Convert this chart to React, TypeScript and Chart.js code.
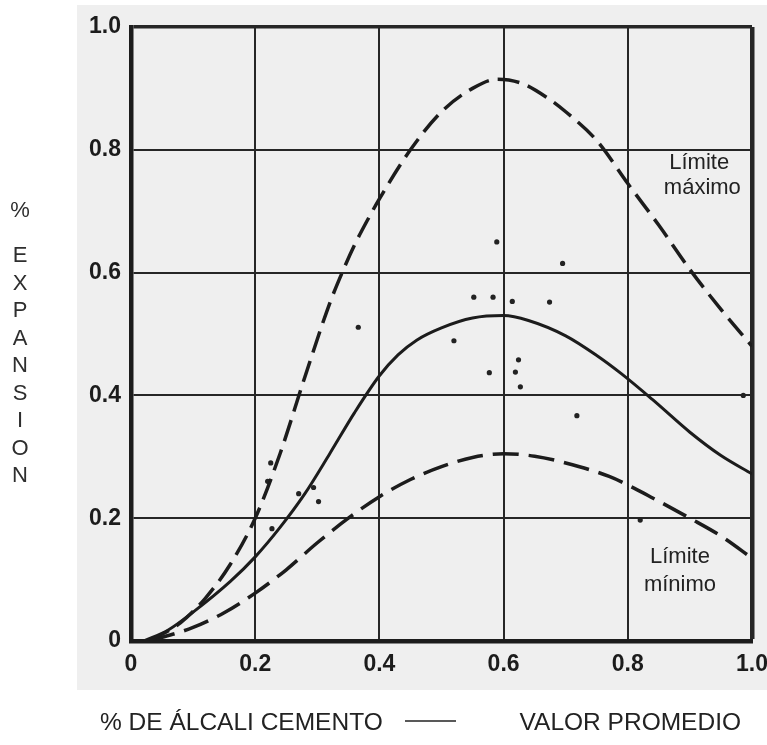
import React, { useEffect, useRef } from 'react';
import { Chart, registerables } from 'chart.js';

Chart.register(...registerables);

// ---- Data ----
const maxX = [0.03, 0.08, 0.12, 0.16, 0.2, 0.24, 0.28, 0.32, 0.34, 0.36, 0.38, 0.4, 0.45, 0.5, 0.55, 0.59, 0.63, 0.67, 0.7, 0.75, 0.8, 0.85, 0.9, 0.95, 1.0];
const maxY = [0, 0.03, 0.07, 0.125, 0.2, 0.305, 0.43, 0.55, 0.6, 0.645, 0.684, 0.72, 0.8, 0.862, 0.9, 0.915, 0.908, 0.885, 0.862, 0.815, 0.745, 0.677, 0.605, 0.54, 0.48];

const meanX = [0.02, 0.06, 0.1, 0.16, 0.2, 0.24, 0.28, 0.32, 0.36, 0.4, 0.43, 0.46, 0.5, 0.55, 0.6, 0.64, 0.7, 0.75, 0.79, 0.84, 0.9, 0.95, 1.0];
const meanY = [0, 0.018, 0.047, 0.097, 0.137, 0.185, 0.24, 0.305, 0.372, 0.432, 0.466, 0.49, 0.51, 0.526, 0.53, 0.522, 0.497, 0.465, 0.435, 0.393, 0.34, 0.302, 0.272];

const minX = [0.03, 0.1, 0.15, 0.2, 0.25, 0.3, 0.35, 0.4, 0.45, 0.5, 0.55, 0.6, 0.65, 0.7, 0.77, 0.81, 0.84, 0.9, 0.95, 1.0];
const minY = [0, 0.022, 0.046, 0.078, 0.116, 0.16, 0.2, 0.235, 0.263, 0.284, 0.299, 0.305, 0.301, 0.29, 0.268, 0.249, 0.233, 0.2, 0.171, 0.135];

const dotX = [0.22, 0.225, 0.227, 0.27, 0.294, 0.302, 0.366, 0.52, 0.552, 0.583, 0.589, 0.614, 0.674, 0.695, 0.577, 0.619, 0.624, 0.627, 0.718, 0.82, 0.986];
const dotY = [0.26, 0.29, 0.183, 0.24, 0.25, 0.227, 0.511, 0.489, 0.56, 0.56, 0.65, 0.553, 0.552, 0.615, 0.437, 0.438, 0.458, 0.414, 0.367, 0.197, 0.4];

const xTickLabels = ['0', '0.2', '0.4', '0.6', '0.8', '1.0'];
const yTickLabels = ['0', '0.2', '0.4', '0.6', '0.8', '1.0'];
const yTitleChars = ['%', 'E', 'X', 'P', 'A', 'N', 'S', 'I', 'O', 'N'];
const xTitle = '% DE ÁLCALI CEMENTO';
const meanLegend = 'VALOR PROMEDIO';
const upperNote = ['Límite', 'máximo'];
const lowerNote = ['Límite', 'mínimo'];

const W = 767;
const H = 745;
const INK = '#1c1c1c';

const pts = (xs: number[], ys: number[]) => xs.map((x, i) => ({ x, y: ys[i] }));

export default function App() {
  const ref = useRef<HTMLCanvasElement | null>(null);

  useEffect(() => {
    const canvas = ref.current;
    if (!canvas) return;

    const decor = {
      id: 'decor',
      beforeDraw(chart: any) {
        const ctx = chart.ctx;
        ctx.save();
        ctx.fillStyle = '#ffffff';
        ctx.fillRect(0, 0, W, H);
        ctx.fillStyle = '#efefef';
        ctx.fillRect(77, 5, W - 77, 685);
        ctx.restore();
      },
      afterDraw(chart: any) {
        const ctx = chart.ctx;
        const xs = chart.scales.x;
        const ys = chart.scales.y;
        ctx.save();
        // vertical y-axis title
        ctx.fillStyle = '#2e2e2e';
        ctx.font = '22px "Liberation Sans", Arial, sans-serif';
        ctx.textAlign = 'center';
        ctx.textBaseline = 'middle';
        yTitleChars.forEach((c, i) => {
          const y = i === 0 ? 211 : 256 + (i - 1) * 27.5;
          ctx.fillText(c, 20, y);
        });
        // annotations
        ctx.fillStyle = '#222222';
        ctx.font = '22px "Liberation Sans", Arial, sans-serif';
        ctx.fillText(upperNote[0], xs.getPixelForValue(0.915), ys.getPixelForValue(0.778));
        ctx.fillText(upperNote[1], xs.getPixelForValue(0.92), ys.getPixelForValue(0.738));
        ctx.fillText(lowerNote[0], xs.getPixelForValue(0.884), ys.getPixelForValue(0.137));
        ctx.fillText(lowerNote[1], xs.getPixelForValue(0.884), ys.getPixelForValue(0.091));
        // caption
        ctx.fillStyle = '#222222';
        ctx.font = '24.5px "Liberation Sans", Arial, sans-serif';
        ctx.textAlign = 'left';
        ctx.fillText(xTitle, 100, 723);
        ctx.strokeStyle = '#222222';
        ctx.lineWidth = 1.5;
        ctx.beginPath();
        ctx.moveTo(405, 721);
        ctx.lineTo(456, 721);
        ctx.stroke();
        ctx.textAlign = 'right';
        ctx.fillText(meanLegend, 741, 723);
        ctx.restore();
      },
    };

    const lineCommon = {
      showLine: true,
      borderColor: INK,
      pointRadius: 0,
      cubicInterpolationMode: 'monotone' as const,
      fill: false,
    };

    const chart = new Chart(canvas, {
      type: 'scatter',
      data: {
        datasets: [
          { ...lineCommon, label: 'max', data: pts(maxX, maxY), borderWidth: 3.5, borderDash: [22, 9] },
          { ...lineCommon, label: 'mean', data: pts(meanX, meanY), borderWidth: 3 },
          { ...lineCommon, label: 'min', data: pts(minX, minY), borderWidth: 3.5, borderDash: [26, 10] },
          {
            label: 'dots',
            data: pts(dotX, dotY),
            showLine: false,
            pointRadius: 2.6,
            pointBackgroundColor: '#222222',
            pointBorderWidth: 0,
          },
        ],
      },
      options: {
        responsive: false,
        animation: false,
        events: [],
        layout: { padding: { top: 27, right: 15, left: 0, bottom: 0 } },
        plugins: { legend: { display: false }, tooltip: { enabled: false } },
        scales: {
          x: {
            type: 'linear',
            min: 0,
            max: 1,
            afterFit(scale: any) {
              scale.height = 104;
              scale.paddingLeft = 0;
              scale.paddingRight = 0;
            },
            ticks: {
              stepSize: 0.2,
              padding: 10,
              color: INK,
              font: { family: '"Liberation Sans", Arial, sans-serif', size: 23, weight: 'bold' },
              callback: (v: any) => xTickLabels[Math.round(Number(v) / 0.2)] ?? '',
              maxRotation: 0,
            },
            grid: {
              drawTicks: false,
              color: '#262626',
              lineWidth: (c: any) => (c.tick && Math.abs(c.tick.value - 1) < 1e-6 ? 4.5 : 2),
            },
            border: { display: true, width: 4.5, color: INK },
          },
          y: {
            type: 'linear',
            min: 0,
            max: 1,
            afterFit(scale: any) {
              scale.width = 131;
              scale.paddingTop = 0;
              scale.paddingBottom = 0;
            },
            ticks: {
              stepSize: 0.2,
              padding: 10,
              color: INK,
              font: { family: '"Liberation Sans", Arial, sans-serif', size: 23, weight: 'bold' },
              callback: (v: any) => yTickLabels[Math.round(Number(v) / 0.2)] ?? '',
            },
            grid: {
              drawTicks: false,
              color: '#262626',
              lineWidth: (c: any) => (c.tick && Math.abs(c.tick.value - 1) < 1e-6 ? 3.5 : 2),
            },
            border: { display: true, width: 4.5, color: INK },
          },
        },
      },
      plugins: [decor],
    });

    return () => chart.destroy();
  }, []);

  return (
    <div style={{ position: 'absolute', left: 0, top: 0, width: W, height: H, background: '#fff' }}>
      <canvas ref={ref} width={W} height={H} style={{ width: W, height: H, display: 'block' }} />
    </div>
  );
}
